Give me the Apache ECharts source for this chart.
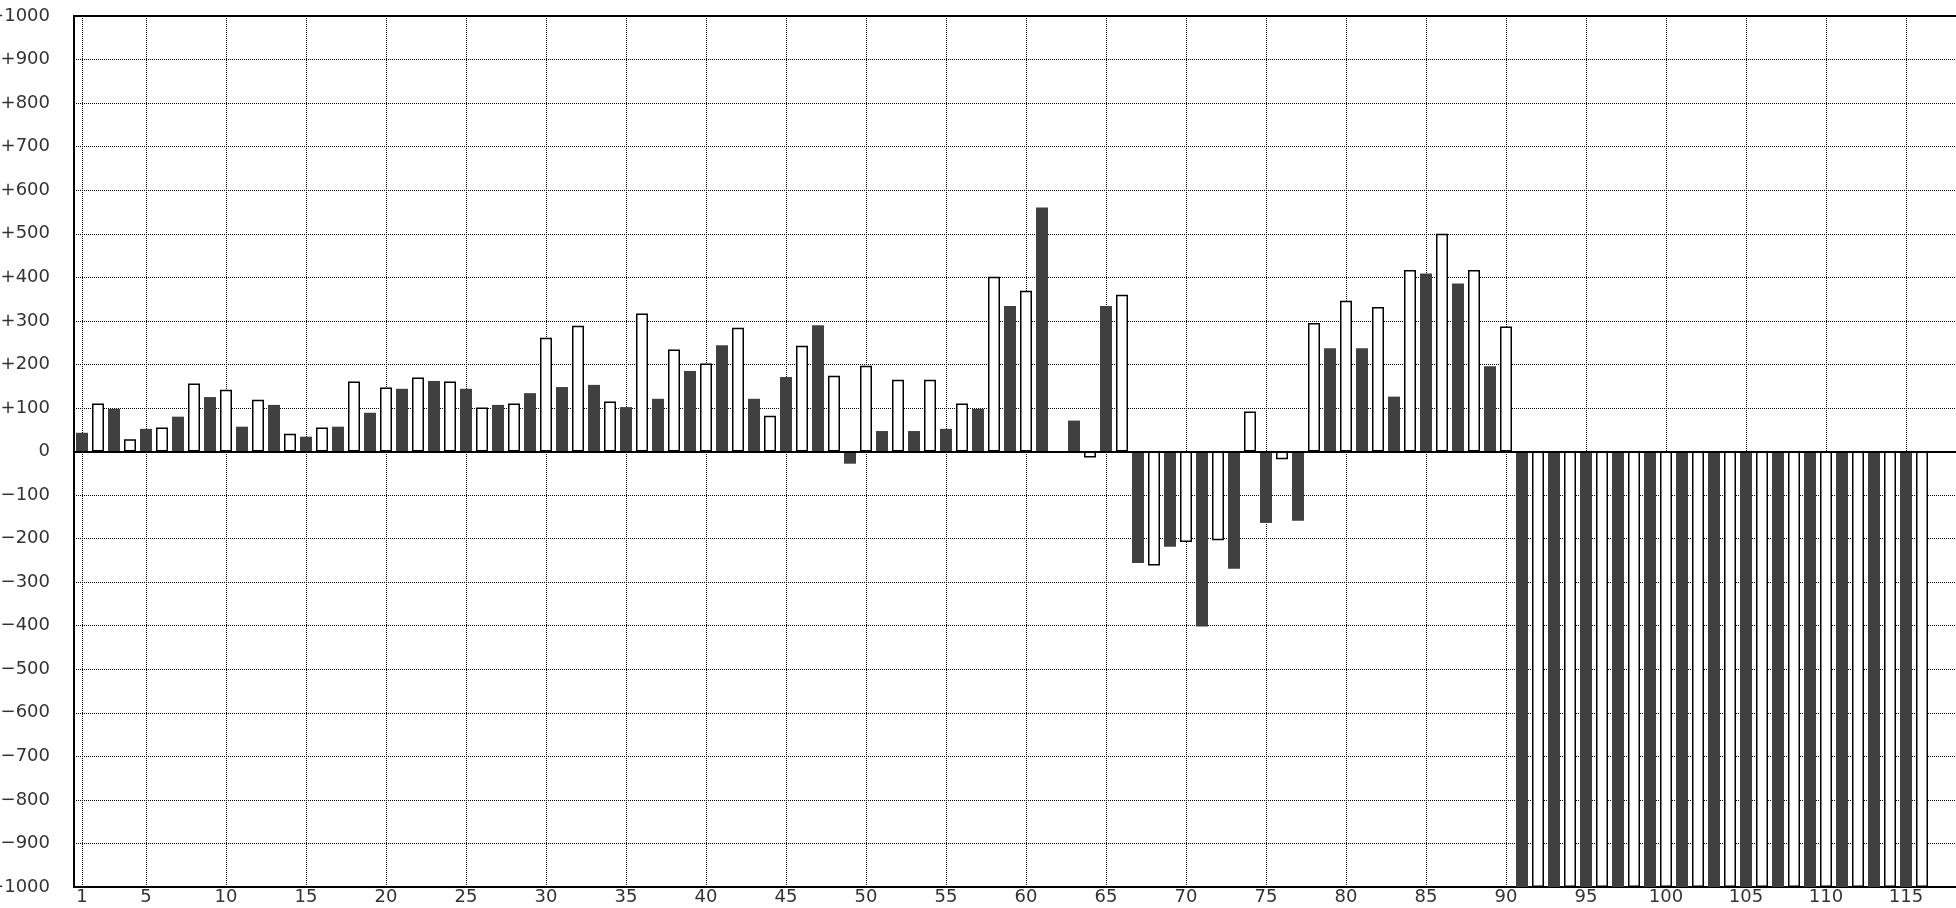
<!DOCTYPE html>
<html>
<head>
<meta charset="utf-8">
<script src="https://cdn.jsdelivr.net/npm/echarts@6/dist/echarts.min.js"></script>
<style>
html,body{margin:0;padding:0;background:#fff;}
#chart{width:1956px;height:908px;}
</style>
</head>
<body>
<div id="chart"></div>
<script>
// Category labels (1..118; the plot area runs past the right edge of the picture)
var categories = ["1","2","3","4","5","6","7","8","9","10","11","12","13","14","15","16","17","18","19","20",
"21","22","23","24","25","26","27","28","29","30","31","32","33","34","35","36","37","38","39","40",
"41","42","43","44","45","46","47","48","49","50","51","52","53","54","55","56","57","58","59","60",
"61","62","63","64","65","66","67","68","69","70","71","72","73","74","75","76","77","78","79","80",
"81","82","83","84","85","86","87","88","89","90","91","92","93","94","95","96","97","98","99","100",
"101","102","103","104","105","106","107","108","109","110","111","112","113","114","115","116","117","118"];

// Dark bars: categories 1,3,5,...,115
var darkValues = [43,98,52,80,125,57,107,34,57,89,144,162,144,107,134,148,153,102,121,185,
244,121,171,290,-28,47,47,52,98,334,560,71,334,-256,-219,-402,-269,-164,-159,237,
237,126,409,386,196,-1000,-1000,-1000,-1000,-1000,-1000,-1000,-1000,-1000,-1000,-1000,-1000,-1000];

// White (outlined) bars: categories 2,4,6,...,116
var whiteValues = [110,28,55,156,142,119,41,55,161,147,170,161,101,110,261,289,115,317,234,202,
284,82,243,174,197,165,165,110,401,369,null,-14,360,-262,-208,-204,92,-18,295,346,
332,417,500,417,287,-1000,-1000,-1000,-1000,-1000,-1000,-1000,-1000,-1000,-1000,-1000,-1000,-1000];

// Y tick values
var yTicks = {min: -1000, max: 1000, step: 100};

var darkData = categories.map(function(){ return null; });
var whiteData = categories.map(function(){ return null; });
darkValues.forEach(function(v, k){ darkData[2*k] = v; });
whiteValues.forEach(function(v, k){ whiteData[2*k+1] = v; });

function shownCat(index){ return index === 0 || (index + 1) % 5 === 0; }

var chart = echarts.init(document.getElementById('chart'), null, {renderer: 'canvas'});
chart.setOption({
  animation: false,
  backgroundColor: '#fff',
  grid: {left: 74, top: 16, width: 1888, height: 871, show: true, borderColor: '#000', borderWidth: 2,
         backgroundColor: 'transparent', containLabel: false, outerBoundsMode: 'none'},
  xAxis: {
    type: 'category',
    data: categories,
    boundaryGap: true,
    axisLine: {show: false},
    axisTick: {show: false},
    axisLabel: {interval: shownCat, color: '#333', fontFamily: 'DejaVu Sans', fontSize: 18, margin: 1},
    splitLine: {show: true, interval: shownCat, alignWithLabel: true, lineStyle: {color: '#000', width: 1, type: [1, 1]}}
  },
  yAxis: {
    type: 'value',
    min: yTicks.min, max: yTicks.max, interval: yTicks.step,
    axisLine: {show: false},
    axisTick: {show: false},
    axisLabel: {
      margin: 24, color: '#333', fontFamily: 'DejaVu Sans', fontSize: 18,
      formatter: function(v){ return v > 0 ? '+' + v : (v < 0 ? '\u2212' + Math.abs(v) : '0'); }
    },
    splitLine: {show: true, lineStyle: {color: '#000', width: 1, type: [1, 1]}}
  },
  series: [
    {
      name: 'dark', type: 'bar', data: darkData, barWidth: 12, barGap: '-100%',
      itemStyle: {color: '#404040'},
      markLine: {silent: true, symbol: 'none', label: {show: false},
        lineStyle: {color: '#000', width: 2, type: 'solid'}, data: [{yAxis: 0}]}
    },
    {
      name: 'white', type: 'bar', data: whiteData, barWidth: 12, barGap: '-100%',
      itemStyle: {color: '#fff', borderColor: '#000', borderWidth: 1.5}
    }
  ]
});
</script>
</body>
</html>
